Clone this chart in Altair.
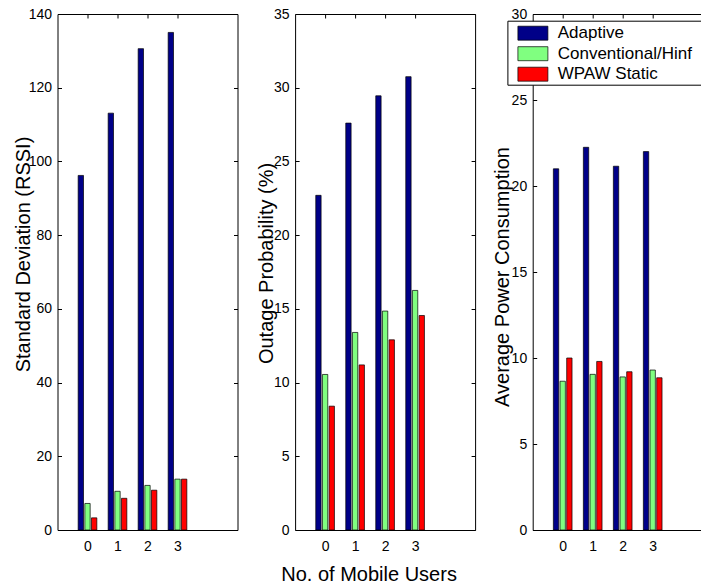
import altair as alt
import pandas as pd

users = [0, 1, 2, 3]
series = ["Adaptive", "Conventional/Hinf", "WPAW Static"]
colors = ["#000088", "#80FF80", "#FF0000"]

std_adaptive = [96.2, 113.1, 130.6, 135.0]
std_conv = [7.2, 10.5, 12.1, 13.8]
std_wpaw = [3.3, 8.6, 10.8, 13.8]

out_adaptive = [22.7, 27.6, 29.45, 30.75]
out_conv = [10.55, 13.4, 14.85, 16.25]
out_wpaw = [8.4, 11.2, 12.9, 14.55]

pow_adaptive = [21.0, 22.25, 21.15, 22.0]
pow_conv = [8.65, 9.05, 8.9, 9.3]
pow_wpaw = [10.0, 9.8, 9.2, 8.85]

FONT = "Liberation Sans"
GROUP = 0.2222
HALF = 0.089


def make_df(vals):
    rows = []
    for si, (name, v) in enumerate(zip(series, vals)):
        for u, val in zip(users, v):
            rows.append({"users": u, "series": name, "idx": si, "value": val})
    return pd.DataFrame(rows)


def panel(df, ymax, ystep, ytitle, tx, ty, legend=False, right=True,
          xtitle=None):
    yvals = list(range(0, ymax + 1, ystep))
    xscale = alt.Scale(domain=[-1, 5], nice=False, zero=False)
    yscale = alt.Scale(domain=[0, ymax], nice=False)
    base = alt.Chart(df).transform_calculate(
        x0=f"datum.users + (datum.idx - 1) * {GROUP} - {HALF}",
        x1=f"datum.users + (datum.idx - 1) * {GROUP} + {HALF}",
    )
    if xtitle:
        xaxis = alt.Axis(values=users, orient="bottom", offset=-4, tickSize=4,
                         domain=False, labelPadding=9.5, format="d",
                         labelAngle=0, title=xtitle, titleX=73.5, titleY=54,
                         titleAlign="center", titleBaseline="alphabetic")
    else:
        xaxis = alt.Axis(values=users, orient="bottom", offset=-4, tickSize=4,
                         domain=False, labelPadding=9.5, format="d",
                         labelAngle=0, title=None)
    yaxis = alt.Axis(values=yvals, orient="left", offset=-4, tickSize=4,
                     domain=False, labelPadding=6, format="d", title=ytitle,
                     titleX=tx, titleY=ty, titleAlign="center",
                     titleBaseline="alphabetic", titleAngle=270)
    if legend:
        leg = alt.Legend(orient="none", legendX=-25.3, legendY=6.7, title=" ",
                         titleOrient="right", titlePadding=12, titleFontSize=1,
                         symbolType="M-1.5,-0.7H1.5V0.7H-1.5Z", symbolSize=400,
                         symbolStrokeColor="black", symbolStrokeWidth=0.7,
                         symbolOffset=13,
                         labelFont=FONT, labelFontSize=17, labelColor="black",
                         labelOffset=14.3, strokeColor="black",
                         fillColor="white", padding=2, rowPadding=1.5,
                         cornerRadius=0, symbolOpacity=1, labelLimit=0)
    else:
        leg = None
    bars = base.mark_bar(stroke="black", strokeWidth=0.7).encode(
        x=alt.X("x0:Q", scale=xscale, axis=xaxis),
        x2="x1:Q",
        y=alt.Y("value:Q", scale=yscale, axis=yaxis, stack=None),
        y2=alt.datum(0),
        color=alt.Color("series:N", scale=alt.Scale(domain=series, range=colors),
                        legend=leg),
    )
    topaxis = alt.Axis(orient="top", values=users, offset=-4, tickSize=4,
                       labels=False, domain=False, title=None)
    if right:
        raxis = alt.Axis(orient="right", values=yvals, offset=-4, tickSize=4,
                         labels=False, domain=False, title=None)
    else:
        raxis = None
    ghost = base.mark_bar(opacity=0).encode(
        x=alt.X("x0:Q", scale=xscale, axis=topaxis),
        x2="x1:Q",
        y=alt.Y("value:Q", scale=yscale, axis=raxis, stack=None),
        y2=alt.datum(0),
    )
    return alt.layer(bars, ghost).resolve_scale(
        x="independent", y="independent"
    ).properties(
        width=180, height=516,
        view=alt.ViewBackground(stroke="black", strokeWidth=1, fill="white"),
    )


p1 = panel(make_df([std_adaptive, std_conv, std_wpaw]), 140, 20,
           "Standard Deviation (RSSI)", -32.5, 240)
p2 = panel(make_df([out_adaptive, out_conv, out_wpaw]), 35, 5,
           "Outage Probability (%)", -27, 249, xtitle="No. of Mobile Users")
p3 = panel(make_df([pow_adaptive, pow_conv, pow_wpaw]), 30, 5,
           "Average Power Consumption", -28, 262.5, legend=True, right=False)

chart = alt.hconcat(p1, p2, p3, spacing=57.6, bounds="flush").resolve_legend(
    color="independent"
).properties(
    autosize=alt.AutoSizeParams(type="none"),
    padding={"left": 57.5, "top": 14, "right": 643.5, "bottom": 572},
).configure(background="white").configure_view(
    stroke="black", strokeWidth=1
).configure_axis(
    labelFont=FONT, labelFontSize=14, titleFont=FONT, titleFontSize=20,
    titleFontWeight="normal", labelColor="black", titleColor="black",
    tickColor="black", grid=False
)

chart.save("out.html", embed_options={"renderer": "svg", "actions": False})
